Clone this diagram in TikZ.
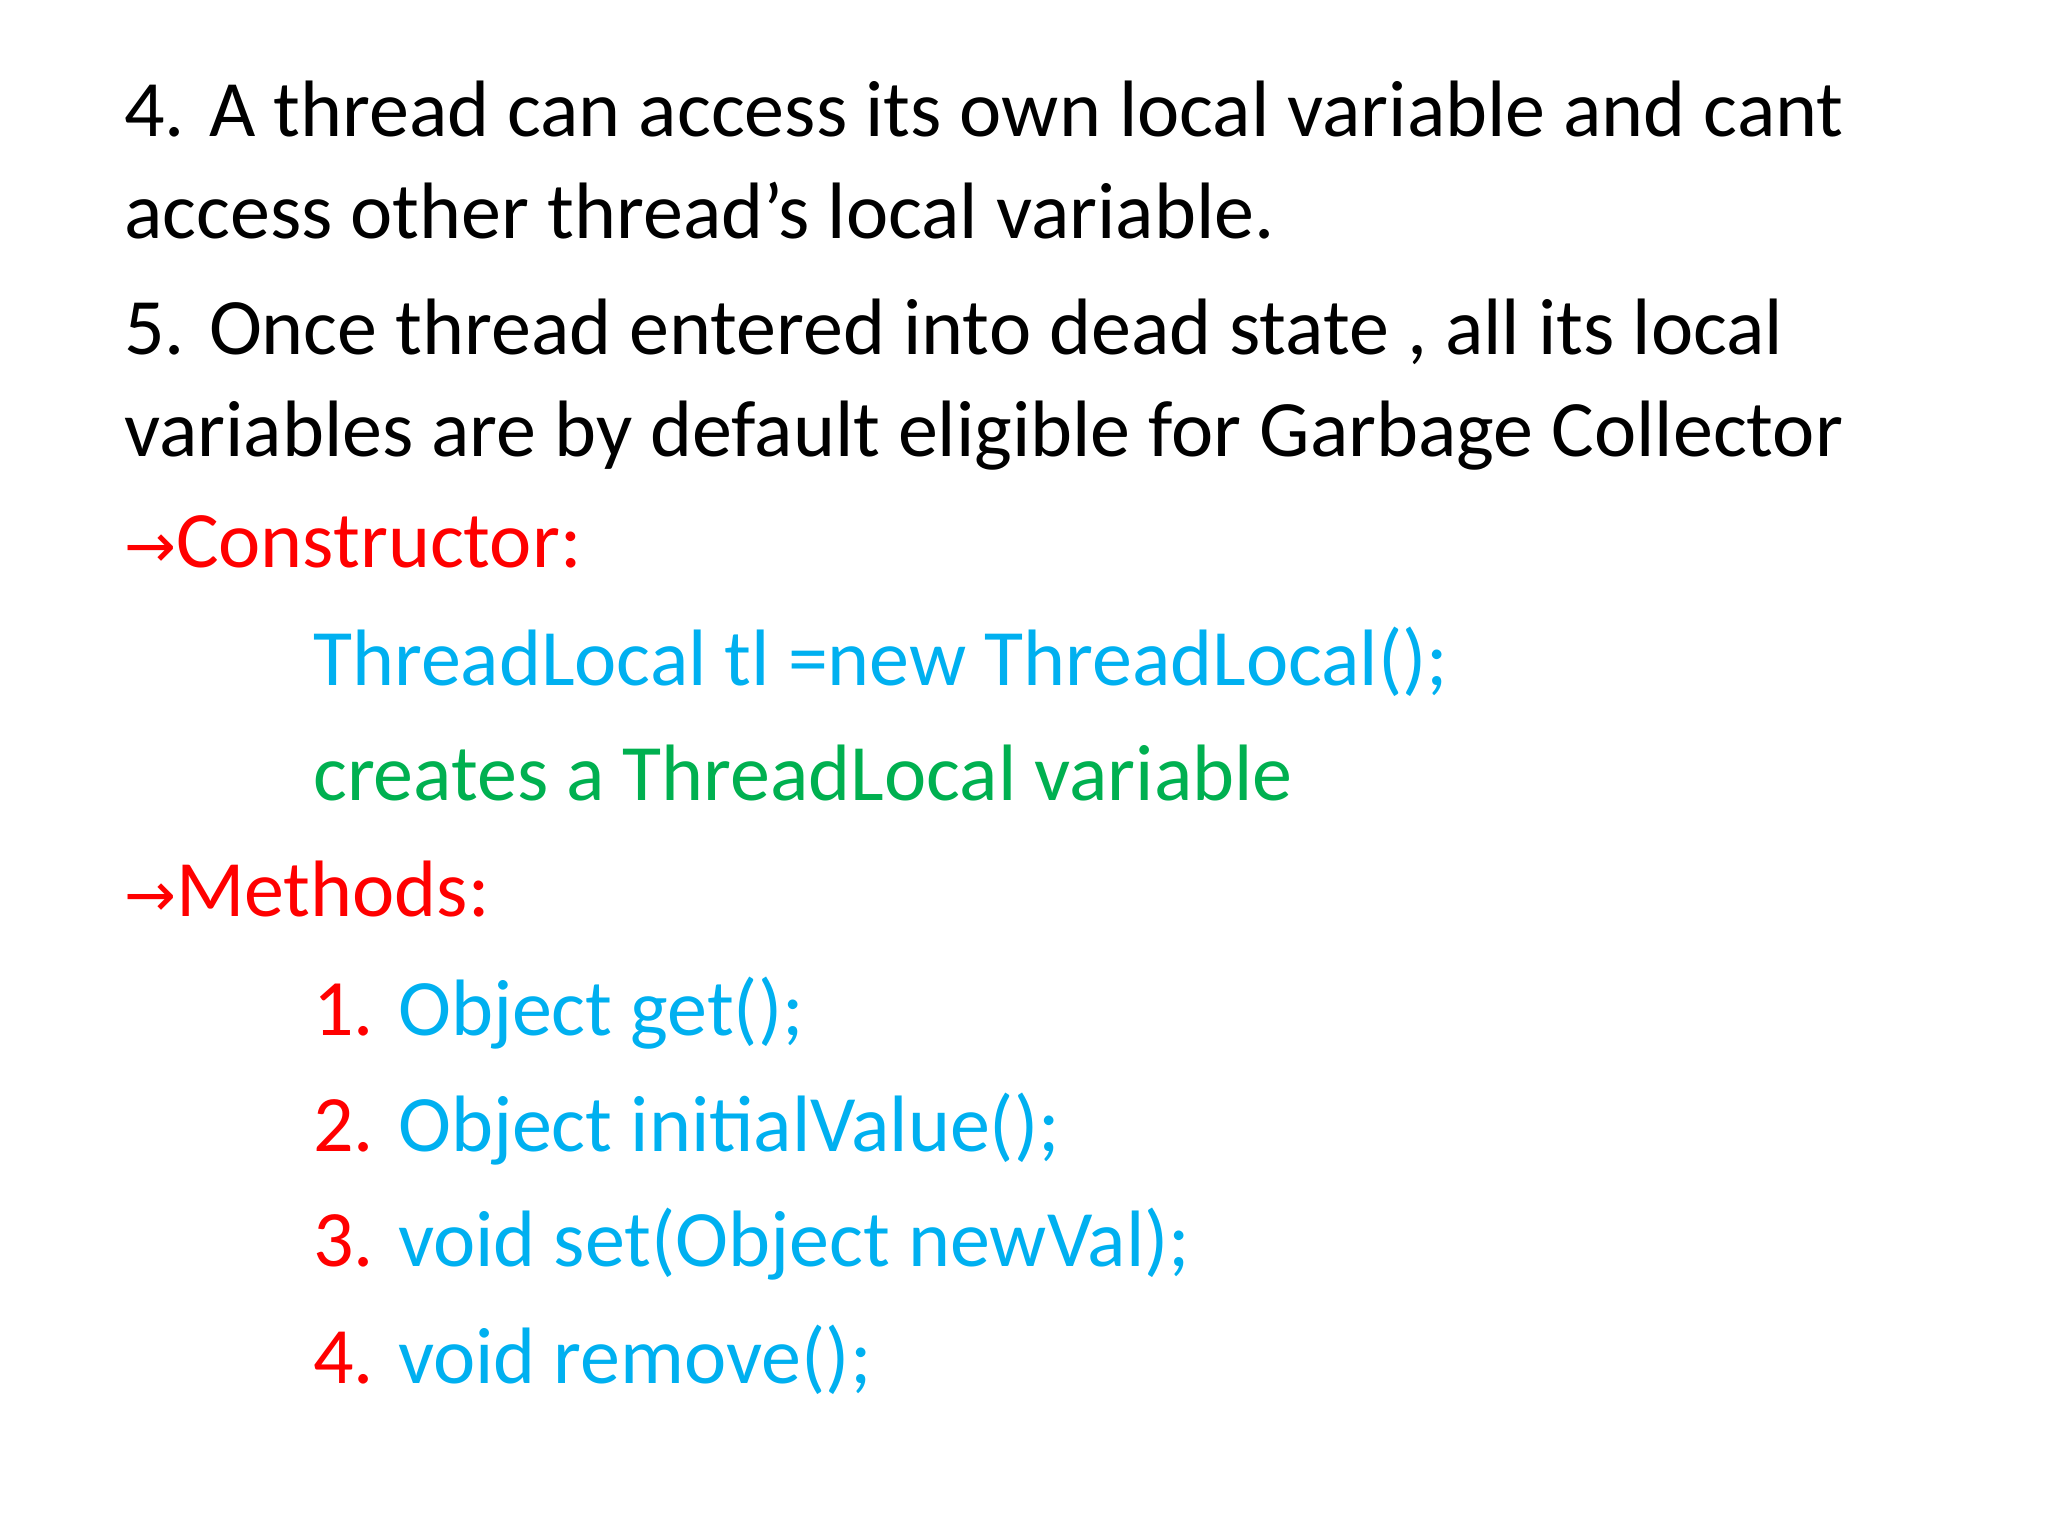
\documentclass[tikz,border=0pt]{standalone}
\usepackage{fontspec}
\setmainfont{Carlito}
\newfontfamily\arrowfont{DejaVu Sans}
\definecolor{cred}{HTML}{FF0000}
\definecolor{ccyan}{HTML}{00B0F0}
\definecolor{cgreen}{HTML}{00B050}
\begin{document}
\begin{tikzpicture}[x=1pt,y=1pt,
  txt/.style={anchor=base west,inner sep=0pt,font=\fontsize{80}{96}\selectfont}]
\useasboundingbox (0,0) rectangle (2048,1536);
\node[txt] (l1) at (124,1399) {4. A thread can access its own local variable and cant};
\node[txt] (l2) at (124,1297) {access other thread’s local variable.};
\node[txt] (l3) at (124,1181) {5. Once thread entered into dead state , all its local};
\node[txt] (l4) at (124,1079) {variables are by default eligible for Garbage Collector};
\node[txt,text=cred] (c) at (124,968) {{\arrowfont\fontsize{62}{70}\selectfont→}Constructor:};
\node[txt,text=ccyan] (tl) at (313,850) {ThreadLocal tl =new ThreadLocal();};
\node[txt,text=cgreen] (cr) at (313,735) {creates a ThreadLocal variable};
\node[txt,text=cred] (m) at (124,619) {{\arrowfont\fontsize{62}{70}\selectfont→}Methods:};
\node[txt] (m1) at (313,500) {\textcolor{cred}{1.} \textcolor{ccyan}{Object get();}};
\node[txt] (m2) at (313,384) {\textcolor{cred}{2.} \textcolor{ccyan}{Object initialValue();}};
\node[txt] (m3) at (313,269) {\textcolor{cred}{3.} \textcolor{ccyan}{void set(Object newVal);}};
\node[txt] (m4) at (313,152) {\textcolor{cred}{4.} \textcolor{ccyan}{void remove();}};
\end{tikzpicture}
\end{document}
